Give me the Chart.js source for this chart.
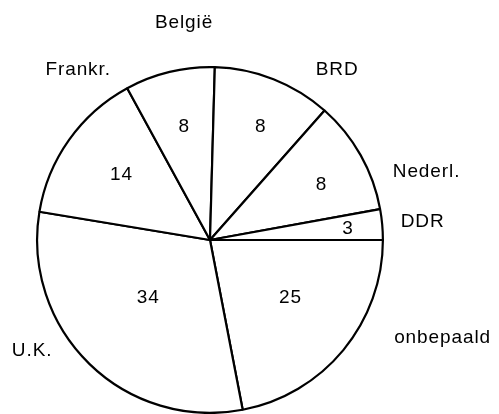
<!DOCTYPE html>
<html>
<head>
<meta charset="utf-8">
<script src="https://cdn.jsdelivr.net/npm/chart.js@4"></script>
<style>
    body { margin: 0; background: #fff; }
    #wrap { width: 499px; height: 414px; }
</style>
</head>
<body>
<div id="wrap"><canvas id="Chart_Herkomst" width="499" height="414"></canvas></div>
<script>
// gegevens (met de klok mee, vanaf 3 uur)
const landen = ['onbepaald', 'U.K.', 'Frankr.', 'België', 'BRD', 'Nederl.', 'DDR'];
const aandeel = [25, 34, 14, 8, 8, 8, 3];
// grootte van de sectoren zoals getekend (graden)
const hoeken = [79.1, 110.3, 52.0, 30.2, 39.9, 38.2, 10.3];

// plaats van de teksten: [hoek in graden, afstand t.o.v. straal]
const posGetal = [[35.6, 0.572], [136.9, 0.489], [216.6, 0.637], [257.2, 0.672], [294.1, 0.718], [333.8, 0.718], [355.5, 0.801]];
const posNaam = [[22.7, 1.458], [148, 1.213], [232.3, 1.247], [263.2, 1.267], [306.7, 1.230], [342.4, 1.314], [355.2, 1.234]];

// plugin voor de teksten
const tekstPlugin = {
    id: 'pie_labels',
    afterDatasetsDraw: (chart) => {
        const ctx = chart.ctx;
        const meta = chart.getDatasetMeta(0);
        const arc = meta.data[0];
        const cx = arc.x, cy = arc.y, R = arc.outerRadius;
        ctx.save();
        ctx.fillStyle = '#000';
        ctx.font = '19px "Liberation Sans", Arial, sans-serif';
        ctx.letterSpacing = '0.9px';
        ctx.textAlign = 'center';
        ctx.textBaseline = 'middle';
        landen.forEach(function (naam, i) {
            var a = posGetal[i][0] * Math.PI / 180;
            var r = posGetal[i][1] * R;
            ctx.fillText(String(aandeel[i]), cx + r * Math.cos(a), cy + r * Math.sin(a));
            a = posNaam[i][0] * Math.PI / 180;
            r = posNaam[i][1] * R;
            ctx.fillText(naam, cx + r * Math.cos(a), cy + r * Math.sin(a));
        });
        ctx.restore();
    }
};

var ctx1 = document.getElementById('Chart_Herkomst');
var Chart_Herkomst = new Chart(ctx1, {
    type: 'pie',
    data: {
        labels: landen,
        datasets: [{
            data: hoeken,
            backgroundColor: '#ffffff',
            borderColor: '#000000',
            borderWidth: 2.2
        }]
    },
    options: {
        responsive: false,
        animation: false,
        rotation: 90,
        layout: {
            padding: {
                left: 36,
                right: 115,
                top: 66,
                bottom: 0
            }
        },
        plugins: {
            legend: { display: false },
            tooltip: { enabled: false }
        }
    },
    plugins: [tekstPlugin]
});
</script>
</body>
</html>
